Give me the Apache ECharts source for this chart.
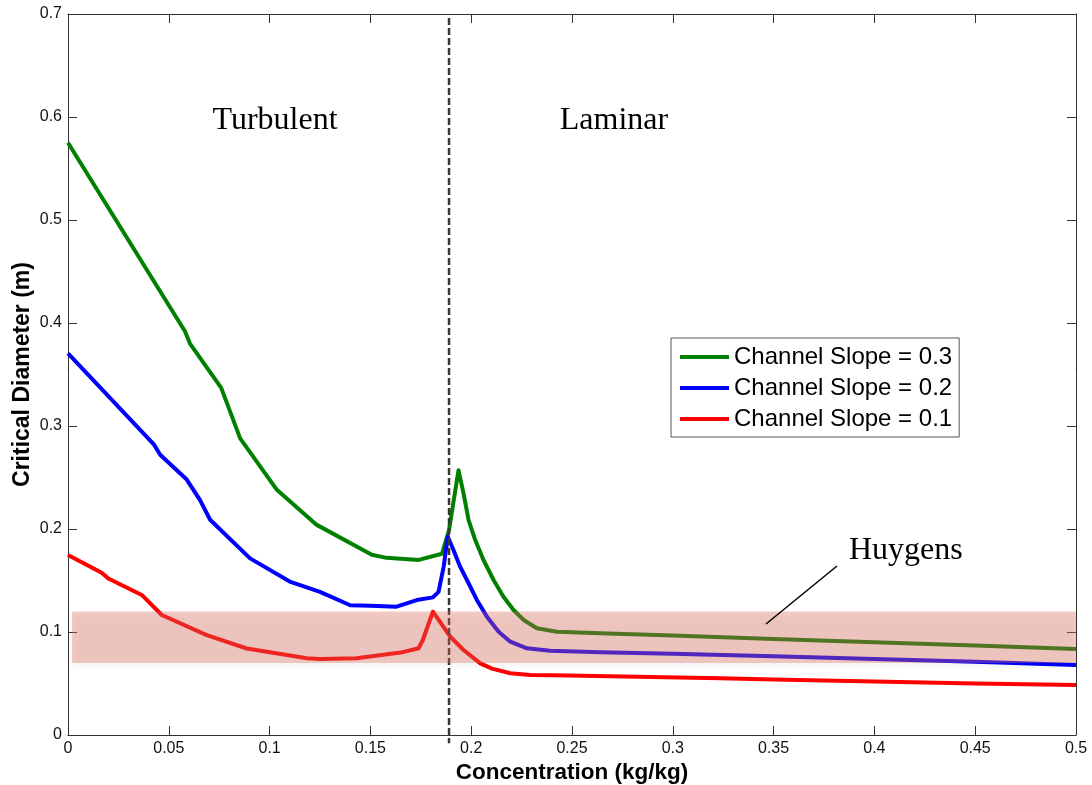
<!DOCTYPE html>
<html>
<head>
<meta charset="utf-8">
<title>Critical Diameter</title>
<script src="https://cdn.jsdelivr.net/npm/echarts@6/dist/echarts.min.js"></script>
<style>
  html, body { margin: 0; padding: 0; background: #fff; }
  #chart { width: 1092px; height: 785px; }
</style>
</head>
<body>
<div id="chart"></div>
<script>
// x = concentration (kg/kg), y = critical diameter (m)
const slope03X = [0, 0.058, 0.0605, 0.076, 0.0854, 0.1036, 0.1234, 0.1507, 0.158, 0.174, 0.1855, 0.189, 0.1937, 0.1962, 0.1987, 0.2020, 0.2061, 0.2111, 0.2160, 0.2210, 0.2260, 0.2326, 0.2425, 0.264, 0.3, 0.35, 0.4, 0.45, 0.5];
const slope03Y = [0.575, 0.392, 0.380, 0.337, 0.288, 0.238, 0.204, 0.175, 0.172, 0.170, 0.176, 0.199, 0.257, 0.2346, 0.2087, 0.1893, 0.1699, 0.1505, 0.1343, 0.1214, 0.1117, 0.1036, 0.1003, 0.0987, 0.0965, 0.0932, 0.0900, 0.0868, 0.0835];

const slope02X = [0, 0.0428, 0.0457, 0.0589, 0.0655, 0.0705, 0.0903, 0.110, 0.125, 0.140, 0.150, 0.163, 0.173, 0.181, 0.1838, 0.1863, 0.1884, 0.1912, 0.1945, 0.1987, 0.2028, 0.2078, 0.2136, 0.2194, 0.2276, 0.2392, 0.264, 0.3, 0.35, 0.4, 0.45, 0.5];
const slope02Y = [0.3705, 0.2816, 0.272, 0.248, 0.228, 0.209, 0.1715, 0.149, 0.139, 0.126, 0.1255, 0.1246, 0.131, 0.1336, 0.139, 0.163, 0.1925, 0.1796, 0.1634, 0.1473, 0.1311, 0.1149, 0.1003, 0.0906, 0.0842, 0.0818, 0.0803, 0.0790, 0.0765, 0.0738, 0.0710, 0.068];

const slope01X = [0, 0.0167, 0.020, 0.0366, 0.0465, 0.0688, 0.0887, 0.1185, 0.125, 0.143, 0.165, 0.1739, 0.176, 0.181, 0.1896, 0.1962, 0.2045, 0.2103, 0.2194, 0.2293, 0.241, 0.3236, 0.35, 0.4, 0.45, 0.5];
const slope01Y = [0.1748, 0.1576, 0.152, 0.136, 0.1165, 0.097, 0.084, 0.0745, 0.0738, 0.0745, 0.080, 0.0842, 0.0922, 0.1197, 0.0955, 0.0825, 0.0696, 0.0645, 0.060, 0.0583, 0.058, 0.055, 0.054, 0.052, 0.050, 0.0485];

const seriesNames = ['Channel Slope = 0.3', 'Channel Slope = 0.2', 'Channel Slope = 0.1'];
const seriesColors = ['#008000', '#0000ff', '#ff0000'];

const huygensBand = [0.002, 0.502, 0.07, 0.12]; // x from, x to, y from, y to
const boundaryX = [0.189, 0.189];
const boundaryY = [0.696, -0.008];

const xTicks = { min: 0, max: 0.5, interval: 0.05 };
const yTicks = { min: 0, max: 0.7, interval: 0.1 };

const pairs = (xs, ys) => xs.map((x, i) => [x, ys[i]]);

const chart = echarts.init(document.getElementById('chart'), null, { renderer: 'canvas' });

const axisLine = { show: true, onZero: false, lineStyle: { color: '#333', width: 1 } };
const tick = { show: true, inside: true, length: 9, lineStyle: { color: '#333' } };
const tickFont = { color: '#111', fontFamily: 'Liberation Sans', fontSize: 16 };
const nameFont = { color: '#000', fontFamily: 'Liberation Sans', fontSize: 22, fontWeight: 'bold' };

const lineSeries = [slope03X, slope02X, slope01X].map((xs, i) => ({
  name: seriesNames[i],
  type: 'line',
  data: pairs(xs, [slope03Y, slope02Y, slope01Y][i]),
  symbol: 'none',
  z: 2,
  lineStyle: { color: seriesColors[i], width: 4, join: 'round' },
  itemStyle: { color: seriesColors[i] },
}));

const option = {
  backgroundColor: '#fff',
  animation: false,
  grid: { left: 68, right: 16, top: 14, bottom: 50, containLabel: false, outerBoundsMode: 'none' },
  xAxis: [{
    type: 'value', ...xTicks,
    name: 'Concentration (kg/kg)', nameLocation: 'middle', nameGap: 26, nameMoveOverlap: false,
    nameTextStyle: { ...nameFont, fontSize: 22.5 },
    axisLine, axisTick: tick,
    axisLabel: { ...tickFont, margin: 6, formatter: v => String(+v.toFixed(2)) },
    splitLine: { show: false },
  }, {
    type: 'value', ...xTicks, position: 'top',
    axisLine, axisTick: tick, axisLabel: { show: false }, splitLine: { show: false },
  }],
  yAxis: [{
    type: 'value', ...yTicks,
    name: 'Critical Diameter (m)', nameLocation: 'middle', nameGap: 34, nameMoveOverlap: false,
    nameTextStyle: { ...nameFont, fontSize: 23 },
    axisLine, axisTick: tick,
    axisLabel: { ...tickFont, margin: 6, formatter: v => String(+v.toFixed(1)) },
    splitLine: { show: false },
  }, {
    type: 'value', ...yTicks, position: 'right',
    axisLine, axisTick: tick, axisLabel: { show: false }, splitLine: { show: false },
  }],
  legend: {
    data: seriesNames,
    orient: 'vertical',
    left: 671, top: 338,
    padding: [7, 7, 6, 9],
    itemGap: 7,
    itemWidth: 49, itemHeight: 4,
    icon: 'rect',
    backgroundColor: '#fff',
    borderColor: '#555', borderWidth: 1,
    textStyle: { color: '#000', fontFamily: 'Liberation Sans', fontSize: 24 },
  },
  series: [
    ...lineSeries,
    {
      name: 'boundary',
      type: 'line',
      data: pairs(boundaryX, boundaryY),
      symbol: 'none',
      clip: false,
      silent: true,
      z: 4,
      lineStyle: { color: '#3a3632', width: 2.5, type: [7, 3] },
    },
    {
      name: 'Huygens',
      type: 'line',
      data: [],
      clip: false,
      z: 10,
      markArea: {
        silent: true,
        z: 10,
        itemStyle: {
          color: 'rgba(228, 110, 95, 0.35)',
          shadowBlur: 6, shadowOffsetY: 3, shadowColor: 'rgba(0,0,0,0.15)',
        },
        data: [[
          { xAxis: huygensBand[0], yAxis: huygensBand[2] },
          { xAxis: huygensBand[1], yAxis: huygensBand[3] },
        ]],
      },
    },
  ],
  graphic: [
    {
      type: 'text', x: 275, y: 121,
      style: { text: 'Turbulent', font: '32px "Liberation Serif"', fill: '#000', align: 'center', verticalAlign: 'middle' },
    },
    {
      type: 'text', x: 614, y: 121,
      style: { text: 'Laminar', font: '32px "Liberation Serif"', fill: '#000', align: 'center', verticalAlign: 'middle' },
    },
    {
      type: 'text', x: 849, y: 551,
      style: { text: 'Huygens', font: '32px "Liberation Serif"', fill: '#000', align: 'left', verticalAlign: 'middle' },
    },
    {
      type: 'line', z: 20,
      shape: { x1: 766, y1: 624, x2: 837, y2: 566 },
      style: { stroke: '#000', lineWidth: 1.5 },
    },
  ],
};

chart.setOption(option);
window.addEventListener('resize', () => chart.resize());
</script>
</body>
</html>
